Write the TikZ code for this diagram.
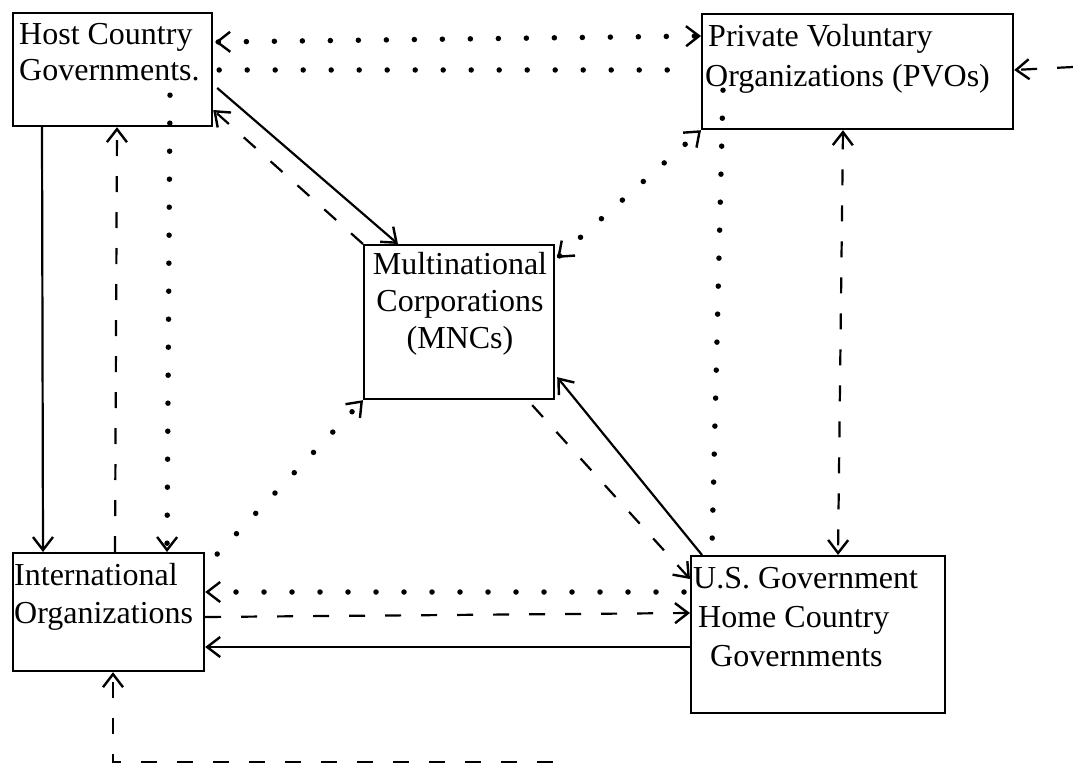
\documentclass[tikz,border=0pt]{standalone}
\usepackage{fontspec}
\setmainfont{Liberation Serif}
\usetikzlibrary{arrows.meta,calc}
\begin{document}
\begin{tikzpicture}[x=1pt,y=-1pt,
  box/.style={draw, line width=2.2pt, inner sep=0pt, anchor=north west},
  lbl/.style={inner sep=0pt, font=\fontsize{32}{38}\selectfont},
  >={Straight Barb[length=13pt,width=20pt,line width'=2.4pt]},
  solidln/.style={line width=2.2pt},
  dashln/.style={line width=2.2pt, dash pattern=on 16pt off 20pt},
  dotln/.style={line width=5.5pt, line cap=round, dash pattern=on 0pt off 28pt},
]
\useasboundingbox (0,0) rectangle (1073,767);

% boxes
\node[box, minimum width=199pt, minimum height=113pt] (hcg) at (12,12) {};
\node[box, minimum width=311pt, minimum height=115pt] (pvo) at (701,13) {};
\node[box, minimum width=190pt, minimum height=154pt] (mnc) at (363,244) {};
\node[box, minimum width=191pt, minimum height=118pt] (io) at (12,552) {};
\node[box, minimum width=254pt, minimum height=157pt] (usg) at (690,555) {};

% labels
\node[lbl, anchor=base west] (hcg1) at (19,45) {Host Country};
\node[lbl, anchor=base west] (hcg2) at (19,81) {Governments.};
\node[lbl, anchor=base west] (pvo1) at (708,47) {Private Voluntary};
\node[lbl, anchor=base west] (pvo2) at (705,87) {Organizations (PVOs)};
\node[lbl, anchor=base] (mnc1) at (460,275) {Multinational};
\node[lbl, anchor=base] (mnc2) at (460,311) {Corporations};
\node[lbl, anchor=base] (mnc3) at (460,348) {(MNCs)};
\node[lbl, anchor=base west] (io1) at (14,585) {International};
\node[lbl, anchor=base west] (io2) at (14,623) {Organizations};
\node[lbl, anchor=base west] (usg1) at (693,588) {U.S. Government};
\node[lbl, anchor=base west] (usg2) at (698,627) {Home Country};
\node[lbl, anchor=base west] (usg3) at (710,666) {Governments};

% free ends
\coordinate (rightend) at (1073,67);
\coordinate (bottomend) at (560,762);

% HCG - PVO
\draw[dotln,<->] ($(hcg.north east)+(2,30)$) -- ($(pvo.north west)+(0,23)$);
\draw[dotln] ($(hcg.north east)+(6,58)$) -- ($(pvo.north west)+(-6,57)$);
% HCG - IO
\draw[dotln,->] ($(hcg.south west)+(158,-32)$) -- ($(io.north west)+(155,0)$);
\draw[solidln,->] ($(hcg.south west)+(30,0)$) -- ($(io.north west)+(31,0)$);
\draw[dashln,->] ($(io.north west)+(103,0)$) -- ($(hcg.south west)+(105,0)$);
% HCG - MNC
\draw[solidln,->] ($(hcg.north east)+(4,76)$) -- ($(mnc.north west)+(35,0)$);
\draw[dashln,->] (mnc.north west) -- ($(hcg.north east)+(0,98)$);
% PVO - MNC
\draw[dotln,<->] ($(mnc.north east)+(2,14)$) -- (pvo.south west);
% PVO - USG
\draw[dotln] ($(pvo.south west)+(22,-40)$) -- ($(usg.north west)+(22,-8)$);
\draw[dashln,<->] ($(pvo.south west)+(142,0)$) -- ($(usg.north west)+(148,0)$);
% right incoming
\draw[dashln,->] (rightend) -- ($(pvo.north east)+(0,57)$);
% USG - MNC
\draw[solidln,->] ($(usg.north west)+(12,0)$) -- ($(mnc.south east)+(2,-23)$);
\draw[dashln,->] ($(mnc.south east)+(-23,5)$) -- ($(usg.north west)+(0,24)$);
% USG - IO
\draw[dotln,->] ($(usg.north west)+(-6,37)$) -- ($(io.north east)+(0,40)$);
\draw[dashln,->] ($(io.north east)+(0,65)$) -- ($(usg.north west)+(0,58)$);
\draw[solidln,->] ($(usg.north west)+(0,92)$) -- ($(io.north east)+(0,95)$);
% IO - MNC
\draw[dotln,->] ($(io.north east)+(12,2)$) -- (mnc.south west);
% bottom incoming
\draw[dashln,dash phase=29pt,->] (bottomend) -| ($(io.south west)+(101,0)$);
\end{tikzpicture}
\end{document}
